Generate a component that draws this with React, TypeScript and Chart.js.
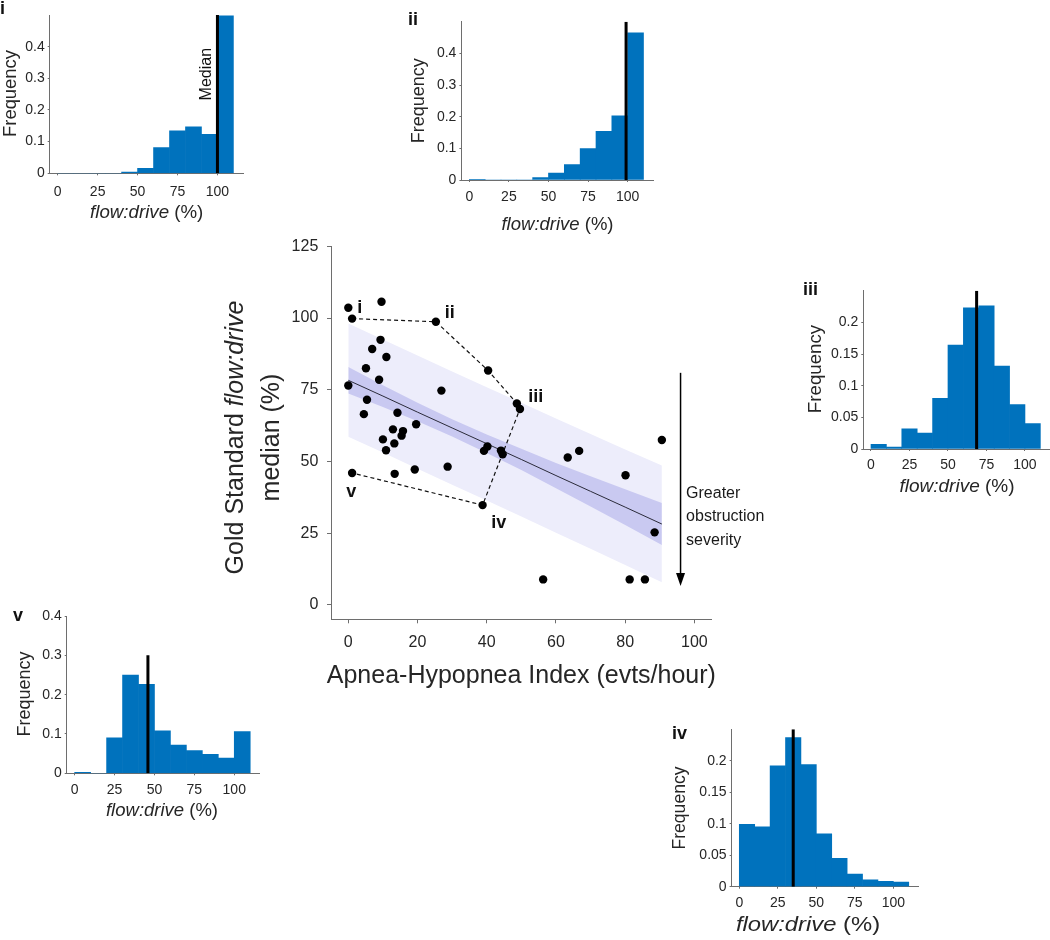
import React, { useEffect, useRef } from "react";
import { Chart, registerables } from "chart.js";
Chart.register(...registerables);

const FONT = '"Liberation Sans", Arial, Helvetica, sans-serif';
const AXIS_COLOR = "#6e6e6e";
const TEXT_COLOR = "#262626";
const BAR_COLOR = "#0072BD";
const PI_COLOR = "rgb(237,237,251)";
const CI_COLOR = "rgb(201,201,241)";

// ---------------- main scatter data ----------------
const ahi = [0, 1.1, 9.6, 25.3, 9.3, 6.9, 11.0, 5.1, 8.9, 0, 26.9, 40.4, 48.7, 49.6, 5.4, 4.5, 14.2, 12.9, 15.8, 15.4, 19.6, 10.0, 13.3, 10.9, 13.4, 19.2, 28.7, 1.1, 38.8, 39.2, 40.2, 44.1, 44.6, 63.4, 66.7, 80.1, 90.6, 88.5, 56.3, 81.3, 85.7];
const flowDriveMedian = [103.6, 99.8, 105.7, 98.7, 92.4, 89.2, 86.4, 82.5, 78.5, 76.5, 74.7, 81.7, 70.2, 68.3, 71.5, 66.5, 67.0, 61.2, 60.6, 59.0, 63.0, 57.7, 56.3, 53.9, 45.7, 47.2, 48.2, 46.0, 34.8, 53.7, 55.2, 53.8, 52.5, 51.4, 53.7, 45.2, 57.5, 25.3, 8.9, 8.9, 8.9];

const fitX = [0, 10, 20, 30, 40, 50, 60, 70, 80, 90.6];
const fitY = [78.3, 72.8, 67.2, 61.7, 56.2, 50.7, 45.1, 39.6, 34.1, 28.2];
const ciUpper = [82.9, 76.6, 70.5, 64.7, 59.4, 54.4, 49.5, 44.9, 40.3, 35.5];
const ciLower = [73.7, 69.0, 64.0, 58.7, 53.0, 47.0, 40.7, 34.3, 27.9, 20.9];
const piUpper = [98.1, 92.5, 86.9, 81.4, 75.9, 70.5, 65.0, 59.6, 54.2, 48.6];
const piLower = [58.6, 53.1, 47.5, 41.9, 36.4, 30.8, 25.2, 19.6, 13.9, 7.9];

const pathX = [1.1, 25.3, 40.4, 48.7, 49.6, 38.8, 1.1];
const pathY = [99.8, 98.7, 81.7, 70.2, 68.3, 34.8, 46.0];

const ptLabels = ["i", "ii", "iii", "iv", "v"];
const ptLabelX = [2.6, 27.9, 52.0, 41.3, -0.6];
const ptLabelY = [101.9, 99.9, 70.7, 26.8, 37.5];

const mainXTicks = [0, 20, 40, 60, 80, 100];
const mainYTicks = [0, 25, 50, 75, 100, 125];

const arrowX = 96;
const arrowTop = 80.9;
const arrowBottom = 6.6;
const arrowText = ["Greater", "obstruction", "severity"];
const arrowTextX = 97.6;
const arrowTextY = [37.3, 29.1, 20.9];

// ---------------- histogram data ----------------
const binCenters = [5, 15, 25, 35, 45, 55, 65, 75, 85, 95, 105];
const histI = [0, 0, 0, 0, 0.004, 0.016, 0.081, 0.134, 0.147, 0.123, 0.497];
const histII = [0.002, 0, 0, 0, 0.008, 0.022, 0.049, 0.099, 0.154, 0.203, 0.465];
const histIII = [0.0074, 0.003, 0.032, 0.025, 0.08, 0.164, 0.223, 0.226, 0.131, 0.07, 0.04];
const histIV = [0.099, 0.095, 0.192, 0.237, 0.194, 0.084, 0.045, 0.02, 0.011, 0.0085, 0.0074];
const histV = [0.0025, 0, 0.09, 0.25, 0.226, 0.108, 0.072, 0.058, 0.048, 0.039, 0.106];
const histXTicks = [0, 25, 50, 75, 100];
const yTicksTenth = [0, 0.1, 0.2, 0.3, 0.4];
const yTicksTwentieth = [0, 0.05, 0.1, 0.15, 0.2];

type Part = { t: string; italic?: boolean; bold?: boolean };

function drawParts(
  ctx: CanvasRenderingContext2D,
  parts: Part[],
  size: number,
  x: number,
  y: number,
  opts: { align?: "center" | "left"; baseline?: CanvasTextBaseline; rotate?: boolean; sx?: number; color?: string } = {}
) {
  ctx.save();
  ctx.translate(x, y);
  if (opts.rotate) ctx.rotate(-Math.PI / 2);
  if (opts.sx) ctx.scale(opts.sx, 1);
  ctx.fillStyle = opts.color || TEXT_COLOR;
  ctx.textBaseline = opts.baseline || "alphabetic";
  ctx.textAlign = "left";
  const fontOf = (p: Part) => `${p.italic ? "italic " : ""}${p.bold ? "bold " : ""}${size}px ${FONT}`;
  const widths = parts.map((p) => {
    ctx.font = fontOf(p);
    return ctx.measureText(p.t).width;
  });
  const total = widths.reduce((a, b) => a + b, 0);
  let cx = opts.align === "left" ? 0 : -total / 2;
  parts.forEach((p, i) => {
    ctx.font = fontOf(p);
    ctx.fillText(p.t, cx, 0);
    cx += widths[i];
  });
  ctx.restore();
}

// ---------------- main chart ----------------
const MAIN_BOX = { left: 200, top: 228, width: 590, height: 472 };
const MAIN_AREA = { left: 331, top: 240, right: 711.7, bottom: 619.3 };

function MainChart() {
  const ref = useRef<HTMLCanvasElement>(null);
  useEffect(() => {
    const cv = ref.current!;
    const box = MAIN_BOX;
    const area = MAIN_AREA;
    const toPts = (xs: number[], ys: number[]) => xs.map((x, i) => ({ x, y: ys[i] }));

    const overlay = {
      id: "mainOverlay",
      afterDatasetsDraw(chart: any) {
        const ctx: CanvasRenderingContext2D = chart.ctx;
        const xs = chart.scales.x;
        const ys = chart.scales.y;
        // arrow
        const ax = xs.getPixelForValue(arrowX);
        const y1 = ys.getPixelForValue(arrowTop);
        const y2 = ys.getPixelForValue(arrowBottom);
        ctx.save();
        ctx.strokeStyle = "#000";
        ctx.fillStyle = "#000";
        ctx.lineWidth = 1.5;
        ctx.beginPath();
        ctx.moveTo(ax, y1);
        ctx.lineTo(ax, y2 - 10);
        ctx.stroke();
        ctx.beginPath();
        ctx.moveTo(ax - 4.5, y2 - 13);
        ctx.lineTo(ax + 4.5, y2 - 13);
        ctx.lineTo(ax, y2);
        ctx.closePath();
        ctx.fill();
        ctx.restore();
        arrowText.forEach((t, i) => {
          drawParts(ctx, [{ t }], 16, xs.getPixelForValue(arrowTextX), ys.getPixelForValue(arrowTextY[i]), {
            align: "left",
            color: "#1a1a1a",
          });
        });
        ptLabels.forEach((t, i) => {
          drawParts(ctx, [{ t, bold: true }], 18, xs.getPixelForValue(ptLabelX[i]), ys.getPixelForValue(ptLabelY[i]), {
            align: "left",
            color: "#111",
          });
        });
      },
      afterDraw(chart: any) {
        const ctx: CanvasRenderingContext2D = chart.ctx;
        drawParts(ctx, [{ t: "Apnea-Hypopnea Index (evts/hour)" }], 25, (area.left + area.right) / 2 - box.left, 683 - box.top, {
          align: "center",
        });
        drawParts(
          ctx,
          [{ t: "Gold Standard " }, { t: "flow:drive", italic: true }],
          25,
          236 - box.left,
          437.5 - box.top,
          { align: "center", baseline: "middle", rotate: true }
        );
        drawParts(ctx, [{ t: "median (%)" }], 25, 272 - box.left, 437.5 - box.top, {
          align: "center",
          baseline: "middle",
          rotate: true,
        });
      },
    };

    const chart = new Chart(cv, {
      type: "line",
      data: {
        datasets: [
          {
            label: "subjects",
            data: toPts(ahi, flowDriveMedian),
            showLine: false,
            pointRadius: 4.2,
            pointBackgroundColor: "#000",
            pointBorderColor: "#000",
            pointBorderWidth: 0,
          },
          {
            label: "path",
            data: toPts(pathX, pathY),
            borderColor: "#111",
            borderWidth: 1.2,
            borderDash: [4, 3],
            pointRadius: 0,
            fill: false,
          },
          {
            label: "fit",
            data: toPts(fitX, fitY),
            borderColor: "#2b2b3a",
            borderWidth: 1,
            pointRadius: 0,
            fill: false,
          },
          {
            label: "ciU",
            data: toPts(fitX, ciUpper),
            borderWidth: 0,
            borderColor: "transparent",
            pointRadius: 0,
            backgroundColor: CI_COLOR,
            fill: "+1",
          },
          {
            label: "ciL",
            data: toPts(fitX, ciLower),
            borderWidth: 0,
            borderColor: "transparent",
            pointRadius: 0,
            fill: false,
          },
          {
            label: "piU",
            data: toPts(fitX, piUpper),
            borderWidth: 0,
            borderColor: "transparent",
            pointRadius: 0,
            backgroundColor: PI_COLOR,
            fill: "+1",
          },
          {
            label: "piL",
            data: toPts(fitX, piLower),
            borderWidth: 0,
            borderColor: "transparent",
            pointRadius: 0,
            fill: false,
          },
        ],
      },
      options: {
        responsive: false,
        animation: false,
        events: [],
        layout: {
          padding: {
            left: 0,
            bottom: 0,
            top: area.top - box.top,
            right: box.left + box.width - area.right,
          },
        },
        plugins: { legend: { display: false }, tooltip: { enabled: false } },
        scales: {
          x: {
            type: "linear",
            min: -5,
            max: 105,
            grid: { display: true, drawOnChartArea: false, drawTicks: true, tickLength: 4, color: AXIS_COLOR },
            border: { display: true, color: AXIS_COLOR, width: 1 },
            ticks: { font: { size: 16, family: FONT }, color: TEXT_COLOR, padding: 10, maxRotation: 0, autoSkip: false },
            afterBuildTicks: (s: any) => {
              s.ticks = mainXTicks.map((v) => ({ value: v }));
            },
            afterFit: (s: any) => {
              s.height = box.top + box.height - area.bottom;
            },
          },
          y: {
            type: "linear",
            min: -5,
            max: 125,
            grid: { display: true, drawOnChartArea: false, drawTicks: true, tickLength: 4, color: AXIS_COLOR },
            border: { display: true, color: AXIS_COLOR, width: 1 },
            ticks: { font: { size: 16, family: FONT }, color: TEXT_COLOR, padding: 8.7, autoSkip: false },
            afterBuildTicks: (s: any) => {
              s.ticks = mainYTicks.map((v) => ({ value: v }));
            },
            afterFit: (s: any) => {
              s.width = area.left - box.left;
            },
          },
        },
      },
      plugins: [overlay],
    } as any);
    return () => chart.destroy();
  }, []);
  const b = MAIN_BOX;
  return (
    <canvas
      ref={ref}
      width={b.width}
      height={b.height}
      style={{ position: "absolute", left: b.left, top: b.top, width: b.width, height: b.height }}
    />
  );
}

// ---------------- histogram panels ----------------
type PanelSpec = {
  key: string;
  values: number[];
  median: number;
  medianTop: number;
  yMax: number;
  yTicks: number[];
  area: { left: number; top: number; right: number; bottom: number };
  letter: { x: number; y: number };
  freq: { x: number; y: number; size: number };
  xlab: { x: number; y: number; size: number; sx?: number };
  xTickPad: number;
  medianLabel?: { x: number; y: number };
};

const panels: PanelSpec[] = [
  {
    key: "i",
    values: histI,
    median: 100,
    medianTop: 0.5,
    yMax: 0.5,
    yTicks: yTicksTenth,
    area: { left: 49.7, top: 15, right: 243, bottom: 173.3 },
    letter: { x: 0, y: 14 },
    freq: { x: 11, y: 93.5, size: 18.4 },
    xlab: { x: 146.7, y: 217.5, size: 18.7 },
    xTickPad: 8,
    medianLabel: { x: 206.3, y: 74.2 },
  },
  {
    key: "ii",
    values: histII,
    median: 99,
    medianTop: 0.5,
    yMax: 0.5,
    yTicks: yTicksTenth,
    area: { left: 461.4, top: 21.7, right: 653, bottom: 180 },
    letter: { x: 408, y: 25 },
    freq: { x: 419.5, y: 100.8, size: 18 },
    xlab: { x: 557.5, y: 230, size: 18.5 },
    xTickPad: 6.3,
  },
  {
    key: "iii",
    values: histIII,
    median: 68.6,
    medianTop: 0.25,
    yMax: 0.25,
    yTicks: yTicksTwentieth,
    area: { left: 863.3, top: 290.7, right: 1049.6, bottom: 449 },
    letter: { x: 803, y: 295 },
    freq: { x: 816, y: 369, size: 18.7 },
    xlab: { x: 957, y: 492, size: 19 },
    xTickPad: 5.6,
  },
  {
    key: "iv",
    values: histIV,
    median: 35,
    medianTop: 0.25,
    yMax: 0.25,
    yTicks: yTicksTwentieth,
    area: { left: 731.6, top: 729.3, right: 918, bottom: 886.7 },
    letter: { x: 672, y: 739 },
    freq: { x: 680.5, y: 808, size: 17.6 },
    xlab: { x: 808, y: 931, size: 20, sx: 1.19 },
    xTickPad: 6.2,
  },
  {
    key: "v",
    values: histV,
    median: 45.9,
    medianTop: 0.3,
    yMax: 0.4,
    yTicks: yTicksTenth,
    area: { left: 66.7, top: 616, right: 259.8, bottom: 773.3 },
    letter: { x: 13, y: 621 },
    freq: { x: 25, y: 694, size: 18 },
    xlab: { x: 162, y: 816, size: 18.5 },
    xTickPad: 6.3,
  },
];

function boxFor(p: PanelSpec) {
  const left = Math.max(0, Math.floor(p.area.left - 72));
  const top = Math.max(0, Math.floor(p.area.top - 30));
  const right = Math.min(1050, Math.ceil(p.area.right + 6));
  const bottom = Math.min(940, Math.ceil(p.area.bottom + 66));
  return { left, top, width: right - left, height: bottom - top };
}

function HistPanel({ p }: { p: PanelSpec }) {
  const ref = useRef<HTMLCanvasElement>(null);
  const box = boxFor(p);
  useEffect(() => {
    const cv = ref.current!;
    const overlay = {
      id: "histOverlay" + p.key,
      afterDraw(chart: any) {
        const ctx: CanvasRenderingContext2D = chart.ctx;
        drawParts(ctx, [{ t: p.key, bold: true }], 18, p.letter.x - box.left, p.letter.y - box.top, {
          align: "left",
          color: "#111",
        });
        drawParts(ctx, [{ t: "Frequency" }], p.freq.size, p.freq.x - box.left, p.freq.y - box.top, {
          align: "center",
          baseline: "middle",
          rotate: true,
        });
        drawParts(
          ctx,
          [{ t: "flow:drive", italic: true }, { t: " (%)" }],
          p.xlab.size,
          p.xlab.x - box.left,
          p.xlab.y - box.top,
          { align: "center", sx: p.xlab.sx }
        );
        if (p.medianLabel) {
          drawParts(ctx, [{ t: "Median" }], 16, p.medianLabel.x - box.left, p.medianLabel.y - box.top, {
            align: "center",
            baseline: "middle",
            rotate: true,
            color: "#111",
          });
        }
      },
    };
    const chart = new Chart(cv, {
      type: "bar",
      data: {
        datasets: [
          {
            type: "line",
            label: "median",
            data: [
              { x: p.median, y: 0 },
              { x: p.median, y: p.medianTop },
            ],
            borderColor: "#000",
            borderWidth: 3,
            pointRadius: 0,
            fill: false,
          },
          {
            type: "bar",
            label: "frequency",
            data: binCenters.map((x, i) => ({ x, y: p.values[i] })),
            backgroundColor: BAR_COLOR,
            borderWidth: 0,
            barPercentage: 1,
            categoryPercentage: 1,
          },
        ],
      },
      options: {
        responsive: false,
        animation: false,
        events: [],
        layout: {
          padding: {
            left: 0,
            bottom: 0,
            top: p.area.top - box.top,
            right: box.left + box.width - p.area.right,
          },
        },
        plugins: { legend: { display: false }, tooltip: { enabled: false } },
        scales: {
          x: {
            type: "linear",
            min: -5,
            max: 116,
            offset: false,
            grid: { display: true, offset: false, drawOnChartArea: false, drawTicks: true, tickLength: 2, color: AXIS_COLOR },
            border: { display: true, color: AXIS_COLOR, width: 1 },
            ticks: { font: { size: 14, family: FONT }, color: TEXT_COLOR, padding: p.xTickPad, maxRotation: 0, autoSkip: false },
            afterBuildTicks: (s: any) => {
              s.ticks = histXTicks.map((v) => ({ value: v }));
            },
            afterFit: (s: any) => {
              s.height = box.top + box.height - p.area.bottom;
            },
          },
          y: {
            type: "linear",
            min: 0,
            max: p.yMax,
            grid: { display: true, drawOnChartArea: false, drawTicks: true, tickLength: 2, color: AXIS_COLOR },
            border: { display: true, color: AXIS_COLOR, width: 1 },
            ticks: {
              font: { size: 14, family: FONT },
              color: TEXT_COLOR,
              padding: 3,
              autoSkip: false,
              callback: (v: any) => String(+Number(v).toFixed(3)),
            },
            afterBuildTicks: (s: any) => {
              s.ticks = p.yTicks.map((v) => ({ value: v }));
            },
            afterFit: (s: any) => {
              s.width = p.area.left - box.left;
            },
          },
        },
      },
      plugins: [overlay],
    } as any);
    return () => chart.destroy();
  }, []);
  return (
    <canvas
      ref={ref}
      width={box.width}
      height={box.height}
      style={{ position: "absolute", left: box.left, top: box.top, width: box.width, height: box.height }}
    />
  );
}

export default function App() {
  return (
    <div style={{ position: "absolute", left: 0, top: 0, width: 1050, height: 940, background: "#fff", overflow: "hidden" }}>
      <MainChart />
      {panels.map((p) => (
        <HistPanel key={p.key} p={p} />
      ))}
    </div>
  );
}
